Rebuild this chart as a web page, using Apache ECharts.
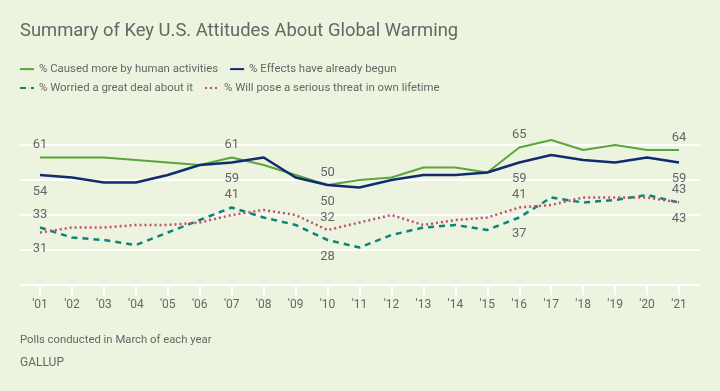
<!DOCTYPE html>
<html>
<head>
<meta charset="utf-8">
<script src="https://cdn.jsdelivr.net/npm/echarts@6/dist/echarts.min.js"></script>
<style>
html,body{margin:0;padding:0;background:#ecf3de;}
#c{width:720px;height:391px;}
</style>
</head>
<body>
<div id="c"></div>
<script>
const years = ["'01","'02","'03","'04","'05","'06","'07","'08","'09","'10","'11","'12","'13","'14","'15","'16","'17","'18","'19","'20","'21"];
const human   = [61,61,61,60,59,58,61,58,54,50,52,53,57,57,55,65,68,64,66,64,64];
const begun   = [54,53,51,51,54,58,59,61,53,50,49,52,54,54,55,59,62,60,59,61,59];
const worried = [33,29,28,26,31,36,41,37,34,28,25,30,33,34,32,37,45,43,44,46,43];
const threat  = [31,33,33,34,34,35,38,40,38,32,35,38,34,36,37,41,42,45,45,45,43];

const names = ['% Caused more by human activities','% Effects have already begun','% Worried a great deal about it','% Will pose a serious threat in own lifetime'];
// labelled points: index -> 'top' | 'bottom'
const humanLabels   = {0:'top',6:'top',9:'top',15:'top',20:'top'};
const begunLabels   = {0:'bottom',6:'bottom',9:'bottom',15:'bottom',20:'bottom'};
const worriedLabels = {0:'top',6:'top',9:'bottom',15:'bottom',20:'top'};
const threatLabels  = {0:'bottom',9:'top',15:'top',20:'bottom'};

const txt = '#666666';
function withLabels(vals, labs){
  return vals.map((v,i)=>{
    const p = labs[i];
    if(!p) return v;
    return {value:v,label:{show:true,position:p,distance:p==='top'?6:10,color:txt,fontSize:13,fontFamily:'Roboto'}};
  });
}
function series(name, vals, labs, color, width, type){
  return {
    name:name,type:'line',xAxisIndex:0,yAxisIndex:0,data:withLabels(vals,labs),
    symbol:'circle',symbolSize:0,showSymbol:true,clip:false,smooth:false,
    lineStyle:{color:color,width:width,type:type},itemStyle:{color:color},
    label:{show:false},
    emphasis:{disabled:true},z:3
  };
}
const legendCommon = {left:14,itemWidth:14,itemHeight:14,itemGap:11,
  itemStyle:{opacity:0},
  textStyle:{color:txt,fontSize:11.4,fontFamily:'Roboto'}};
const chart = echarts.init(document.getElementById('c'),null,{renderer:'canvas'});
chart.setOption({
  backgroundColor:'#ecf3de',
  animation:false,
  title:{text:'Summary of Key U.S. Attitudes About Global Warming',left:15,top:17,
    textStyle:{color:txt,fontSize:18.4,fontWeight:'normal',fontFamily:'Roboto'}},
  legend:[
    Object.assign({data:[names[0],names[1]],top:58.5},legendCommon),
    Object.assign({data:[names[2],names[3]],top:77.5},legendCommon)
  ],
  grid:[
    {left:40,right:41,top:145,bottom:106},
    {left:20,right:20,top:145,bottom:106}
  ],
  xAxis:[
    {type:'category',gridIndex:0,data:years,boundaryGap:false,
     axisLine:{show:false},
     axisTick:{show:true,length:10,lineStyle:{color:'#ffffff',width:2}},
     axisLabel:{color:txt,fontSize:12,margin:14,fontFamily:'Roboto'},
     splitLine:{show:false}},
    {type:'value',gridIndex:1,min:0,max:1,show:false}
  ],
  yAxis:[
    {type:'value',gridIndex:0,min:10,max:66,show:false,splitLine:{show:false}},
    {type:'value',gridIndex:1,min:0,max:4,interval:1,
     axisLine:{show:false},axisTick:{show:false},axisLabel:{show:false},
     splitLine:{show:true,lineStyle:{color:'#ffffff',width:2}}}
  ],
  series:[
    series(names[0],human,humanLabels,'#5ba63a',2,'solid'),
    series(names[1],begun,begunLabels,'#0f2d6e',2.5,'solid'),
    series(names[2],worried,worriedLabels,'#0d847a',2.5,[6,5]),
    series(names[3],threat,threatLabels,'#c0506a',2.5,[2,3])
  ],
  graphic:[
    {type:'text',left:20,top:335,style:{text:'Polls conducted in March of each year',fill:txt,fontSize:11.3,fontFamily:'Roboto'}},
    {type:'text',left:20,top:357,style:{text:'GALLUP',fill:txt,fontSize:12,fontFamily:'Roboto',letterSpacing:1.3}}
  ]
});
</script>
</body>
</html>
